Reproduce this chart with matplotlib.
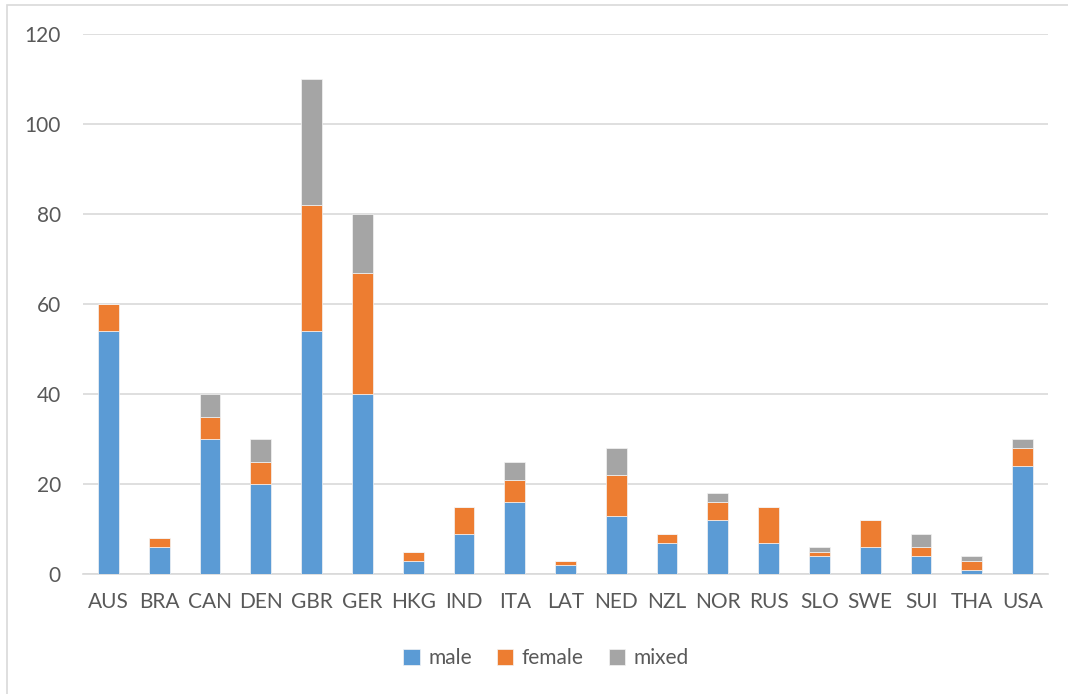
import matplotlib
matplotlib.use("Agg")
import matplotlib.pyplot as plt
from matplotlib.patches import Rectangle
import numpy as np

countries = ["AUS", "BRA", "CAN", "DEN", "GBR", "GER", "HKG", "IND", "ITA", "LAT",
             "NED", "NZL", "NOR", "RUS", "SLO", "SWE", "SUI", "THA", "USA"]
male = [54, 6, 30, 20, 54, 40, 3, 9, 16, 2, 13, 7, 12, 7, 4, 6, 4, 1, 24]
female = [6, 2, 5, 5, 28, 27, 2, 6, 5, 1, 9, 2, 4, 8, 1, 6, 2, 2, 4]
mixed = [0, 0, 5, 5, 28, 13, 0, 0, 4, 0, 6, 0, 2, 0, 1, 0, 3, 1, 2]

plt.rcParams['font.family'] = ['Lato', 'DejaVu Sans']

fig = plt.figure(figsize=(10.68, 6.94), dpi=100)
ax = fig.add_axes([83 / 1068, 1 - 574 / 694, 965 / 1068, 540 / 694])

x = np.arange(len(countries))
male_a = np.array(male)
female_a = np.array(female)
mixed_a = np.array(mixed)
w = 0.41
edge = dict(edgecolor="#f4f4f4", linewidth=0.5)
ax.bar(x, male_a, w, color="#5b9bd5", label="male", zorder=3, **edge)
ax.bar(x, female_a, w, bottom=male_a, color="#ed7d31", label="female", zorder=3, **edge)
ax.bar(x, mixed_a, w, bottom=male_a + female_a, color="#a5a5a5", label="mixed", zorder=3, **edge)

ax.set_xlim(-0.5, len(countries) - 0.5)
ax.set_ylim(0, 120)
ax.set_yticks(range(0, 121, 20))
ax.set_xticks(x)
ax.set_xticklabels(countries)
ax.yaxis.grid(True, color="#d9d9d9", linewidth=1.2, zorder=0)
for s in ["top", "right", "left"]:
    ax.spines[s].set_visible(False)
ax.spines["bottom"].set_color("#d9d9d9")
ax.spines["bottom"].set_linewidth(1.2)
ax.tick_params(axis="both", length=0, labelsize=15, colors="#595959")
ax.tick_params(axis="y", pad=16)
ax.tick_params(axis="x", pad=13)

leg = fig.legend(loc="center", bbox_to_anchor=(546 / 1068, 1 - 658 / 694), ncol=3,
                 frameon=False, fontsize=15, handlelength=0.8, handleheight=0.8,
                 handletextpad=0.4, columnspacing=1.2, labelcolor="#595959")

# chart border (left and top visible)
fig.patches.append(Rectangle((7 / 1068, -0.1), 1.2, (1 - 5 / 694) + 0.1,
                             transform=fig.transFigure, fill=False,
                             edgecolor="#d9d9d9", linewidth=1.2))

fig.savefig("out.png", dpi=100)
